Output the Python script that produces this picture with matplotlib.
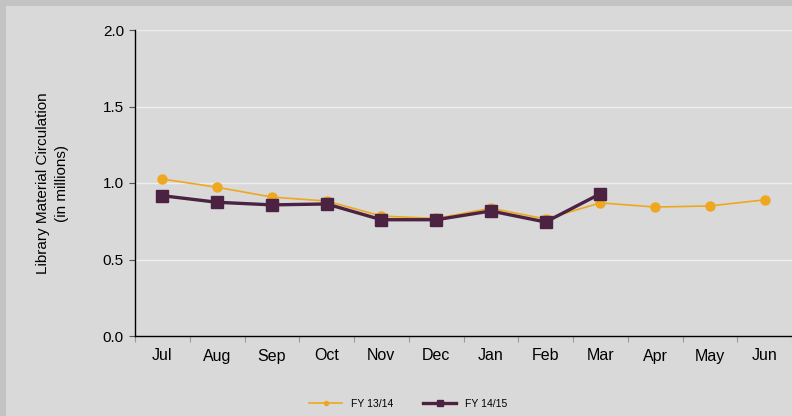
import matplotlib
matplotlib.use("Agg")
import matplotlib.pyplot as plt
from matplotlib.patches import Rectangle

plt.rcParams['font.family'] = ['Liberation Sans', 'DejaVu Sans']

months = ['Jul', 'Aug', 'Sep', 'Oct', 'Nov', 'Dec', 'Jan', 'Feb', 'Mar', 'Apr', 'May', 'Jun']
fy1314 = [1.026, 0.972, 0.908, 0.882, 0.784, 0.768, 0.835, 0.765, 0.870, 0.843, 0.850, 0.890]
fy1415 = [0.917, 0.874, 0.857, 0.863, 0.760, 0.760, 0.817, 0.745, 0.930]

orange = '#eea81f'
purple = '#4b2242'
bg = '#d9d9d9'

fig = plt.figure(figsize=(7.92, 4.16), dpi=100, facecolor='#c3c3c3')
# inner panel, leaves a thin darker border on the left and top
fig.patches.append(Rectangle((6/792, 0), 1, 1 - 6/416, transform=fig.transFigure,
                             facecolor=bg, edgecolor='none', zorder=-10))

ax = fig.add_axes([135/792, 1 - 336/416, 1 - 135/792, (336 - 30)/416])
ax.set_facecolor(bg)

x1 = [i + 0.5 for i in range(len(fy1314))]
x2 = [i + 0.5 for i in range(len(fy1415))]
ax.plot(x1, fy1314, color=orange, lw=1.2, marker='o', ms=6.5, mec=orange, label='FY 13/14', zorder=3)
ax.plot(x2, fy1415, color=purple, lw=2.4, marker='s', ms=8.5, mec=purple, label='FY 14/15', zorder=4)

ax.set_xlim(0, 12)
ax.set_ylim(0, 2.0)
ax.set_yticks([0, 0.5, 1.0, 1.5, 2.0])
ax.set_yticklabels(['0.0', '0.5', '1.0', '1.5', '2.0'])
ax.set_xticks(range(13))
ax.set_xticklabels([])
ax.set_xticks(x1, minor=True)
ax.set_xticklabels(months, minor=True)
ax.tick_params(axis='x', which='minor', length=0, pad=9, labelsize=11.5)
ax.tick_params(axis='x', which='major', length=4, color='#9a9a9a')
ax.tick_params(axis='y', length=4, color='#555555', labelsize=11, pad=4)

for v in [0.5, 1.0, 1.5, 2.0]:
    ax.axhline(v, color='#eeeeee', lw=1, zorder=1)

for s in ['top', 'right']:
    ax.spines[s].set_visible(False)
ax.spines['left'].set_linewidth(1)
ax.spines['bottom'].set_linewidth(1)

ax.set_ylabel('Library Material Circulation\n(in millions)', fontsize=11, labelpad=24,
              linespacing=1.45)

fig.legend(loc='lower center', bbox_to_anchor=(0.515, -0.006), ncol=2,
           frameon=False, fontsize=7.5, handlelength=3.2, columnspacing=2.9,
           markerscale=0.45)

fig.savefig('out.png', dpi=100, facecolor=fig.get_facecolor())
